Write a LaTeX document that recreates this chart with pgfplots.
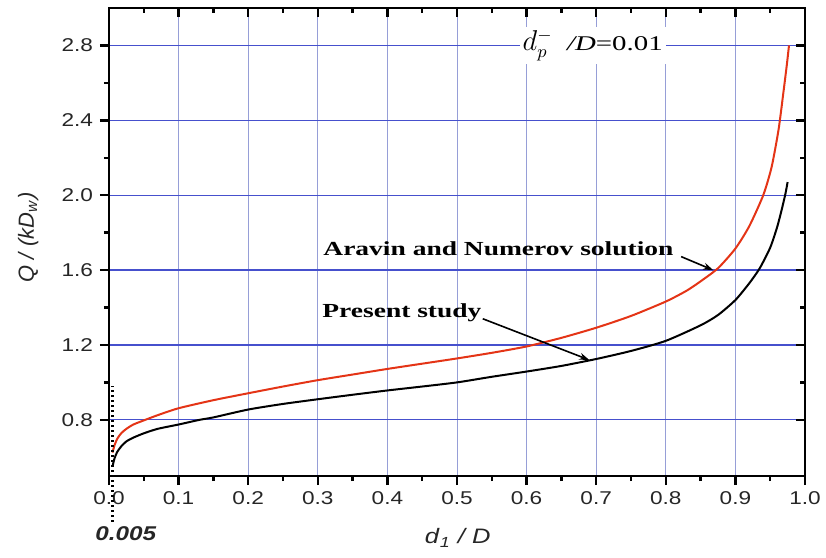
\documentclass[border=0pt]{standalone}
\usepackage{fontspec}
\setmainfont{Liberation Sans}
\newfontfamily\wsans[FakeStretch=1.22]{Liberation Sans}
\newfontfamily\wserif[FakeStretch=1.38]{Liberation Serif}
\usepackage{pgfplots}
\usepackage{pgfplotstable}
\pgfplotsset{compat=1.18}
\usetikzlibrary{arrows.meta}

\definecolor{gridh}{RGB}{70,80,205}
\definecolor{gridv}{RGB}{150,158,215}
\definecolor{aravin}{RGB}{228,52,22}

% Aravin and Numerov solution
\pgfplotstableread{
x y
0.005 0.625
0.008 0.665
0.012 0.700
0.018 0.730
0.025 0.752
0.035 0.775
0.05 0.797
0.07 0.825
0.1 0.862
0.15 0.905
0.2 0.942
0.25 0.978
0.3 1.012
0.35 1.042
0.4 1.072
0.45 1.100
0.5 1.128
0.55 1.158
0.6 1.192
0.65 1.238
0.7 1.292
0.75 1.355
0.8 1.432
0.83 1.49
0.85 1.54
0.875 1.61
0.9 1.715
0.92 1.835
0.94 2.0
0.952 2.15
0.962 2.35
0.969 2.55
0.974 2.7
0.977 2.8
}\aravintab

% Present study
\pgfplotstableread{
x y
0.005 0.55
0.008 0.595
0.012 0.630
0.018 0.660
0.025 0.685
0.035 0.705
0.05 0.728
0.07 0.752
0.1 0.775
0.13 0.800
0.15 0.813
0.2 0.855
0.25 0.885
0.3 0.910
0.35 0.934
0.4 0.957
0.45 0.978
0.5 1.000
0.55 1.030
0.6 1.058
0.65 1.088
0.7 1.125
0.75 1.168
0.8 1.222
0.85 1.305
0.875 1.36
0.9 1.44
0.92 1.53
0.935 1.61
0.95 1.72
0.96 1.83
0.967 1.93
0.972 2.01
0.975 2.07
}\presenttab

\begin{document}
\begin{tikzpicture}
\pgfplotsset{
  base/.style={
    width=348bp, height=234bp, scale only axis,
    xmin=0, xmax=1, ymin=0.5, ymax=3.0,
    xtick={0,0.1,0.2,0.3,0.4,0.5,0.6,0.7,0.8,0.9,1.0},
    ytick={0.8,1.2,1.6,2.0,2.4,2.8},
    minor x tick num=1, minor y tick num=1,
    major tick length=4.5bp, minor tick length=2.5bp,
    axis line style={line width=1.4bp},
    every tick/.style={line width=1.2bp, black},
  }
}
\begin{axis}[base, name=ax, clip=false,
  xtick pos=left, ytick pos=left, tick align=outside,
  grid=major,
  major x grid style={gridv, line width=0.5bp},
  major y grid style={gridh, line width=0.6bp},
  tick label style={font=\wsans\fontsize{9.3}{9.3}\selectfont, black!85},
  /pgf/number format/assume math mode=true,
  xticklabel style={/pgf/number format/.cd, fixed, fixed zerofill, precision=1},
  yticklabel style={/pgf/number format/.cd, fixed, fixed zerofill, precision=1},
  xlabel={\textit{d}\textsubscript{\textit{1}}\textit{ / D}},
  ylabel={\textit{Q / (kD}\textsubscript{\textit{w}}\textit{)}},
  every axis x label/.style={at={(axis description cs:0.501,-0.1325)}, anchor=center,
    font=\wsans\fontsize{10.5}{10.5}\selectfont, black!85},
  every axis y label/.style={at={(axis description cs:-0.116,0.51)}, anchor=center, rotate=90,
    font=\fontsize{11}{11}\selectfont, black!85},
]
\addplot[aravin, line width=1bp, smooth, tension=0.4] table[x=x, y=y] {\aravintab};
\addplot[black, line width=1bp, smooth, tension=0.4] table[x=x, y=y] {\presenttab};

% annotations
\node[fill=white, inner sep=1.5bp, font=\wserif\fontsize{10.5}{10.5}\selectfont]
  at (axis cs:0.695,2.8)
  {{\fontsize{13.5}{13.5}\selectfont$d_{p}^{-}$}\ \ \textit{/D}=0.01};
\node[anchor=base west, inner sep=0pt, font=\wserif\bfseries\fontsize{10}{10}\selectfont]
  at (axis cs:0.3075,1.676) {Aravin and Numerov solution};
\node[anchor=base west, inner sep=0pt, font=\wserif\bfseries\fontsize{10}{10}\selectfont]
  at (axis cs:0.306,1.348) {Present study};
\draw[-{Stealth[length=5bp,width=3.5bp]}, line width=0.8bp] (axis cs:0.822,1.672) -- (axis cs:0.868,1.60);
\draw[-{Stealth[length=5bp,width=3.5bp]}, line width=0.8bp] (axis cs:0.537,1.34) -- (axis cs:0.690,1.12);

% marker of d1/D = 0.005
\draw[line width=1.1bp, dash pattern=on 1.1bp off 1.4bp] (axis cs:0.005,0.255) -- (axis cs:0.005,0.98);
\node[font=\wsans\bfseries\itshape\fontsize{10}{10}\selectfont, black!85] at (axis cs:0.024,0.19) {0.005};
\end{axis}

% mirrored ticks on top and right, pointing inward
\begin{axis}[base, at={(ax.south west)}, anchor=south west,
  xtick pos=right, ytick pos=right, tick align=inside,
  xticklabels={}, yticklabels={}]
\end{axis}

\pgfresetboundingbox
\path ([shift={(-54.5bp,-41bp)}]ax.south west) rectangle ([shift={(10.5bp,4bp)}]ax.north east);
\end{tikzpicture}
\end{document}
